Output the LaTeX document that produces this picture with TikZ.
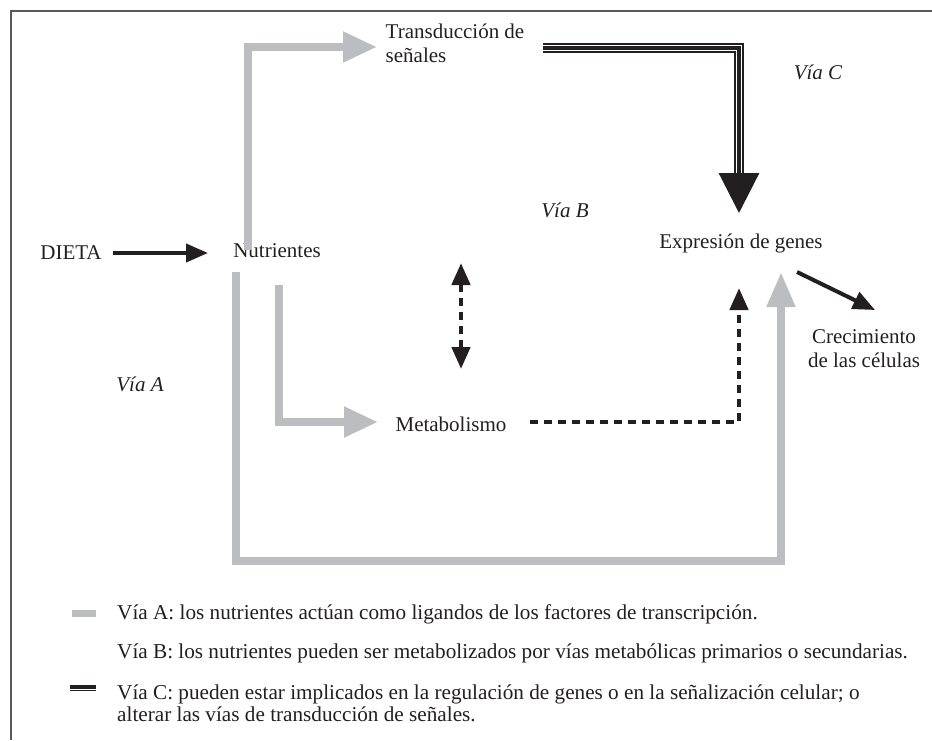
\documentclass[tikz,border=0pt]{standalone}
\usepackage{fontspec}
\setmainfont{Liberation Serif}
\usetikzlibrary{arrows.meta}
\definecolor{ga}{HTML}{BCBDC0}
\definecolor{ink}{HTML}{231F20}
\definecolor{frame}{HTML}{5A5A5A}
\begin{document}
\begin{tikzpicture}[x=1pt,y=-1pt,
  lbl/.style={font=\fontsize{21}{24}\selectfont, text=ink, inner sep=0pt, align=center},
  via/.style={font=\fontsize{21}{24}\selectfont\itshape, text=ink, inner sep=0pt},
  leg/.style={font=\fontsize{21.2}{22}\selectfont, text=ink, inner sep=0pt, align=left, anchor=west},
  grayline/.style={draw=ga, line width=8pt, line join=miter},
  grayarrow/.style={grayline, -{Triangle[length=34pt,width=29pt]}},
  blackarrow/.style={draw=ink, line width=4pt, -{Triangle[length=22pt,width=18pt]}},
  dotline/.style={draw=ink, line width=4.5pt, dash pattern=on 8pt off 6pt},
]
\useasboundingbox (0,0) rectangle (932,740);
\draw[frame, line width=1.5pt] (11,740) -- (11,11) -- (932,11);

% texts
\node[lbl] (dieta) at (71,253) {DIETA};
\node[lbl] (nutr) at (277,251) {Nutrientes};
\node[lbl, align=left] (trans) at (455,43) {Transducción de\\señales};
\node[lbl] (expr) at (741,243) {Expresión de genes};
\node[lbl] (metab) at (451,424) {Metabolismo};
\node[lbl] (crec) at (864,349) {Crecimiento\\de las células};
\node[via] (viaA) at (140,384) {Vía A};
\node[via] (viaB) at (565,210) {Vía B};
\node[via] (viaC) at (818,72) {Vía C};

% coordinates
\coordinate (a1s) at (248,250);
\coordinate (a1c) at (248,47);
\coordinate (a1e) at (377,47);
\coordinate (a2s) at (279,285);
\coordinate (a2c) at (279,422);
\coordinate (a2e) at (378,422);
\coordinate (a3s) at (236,272);
\coordinate (a3c1) at (236,561);
\coordinate (a3c2) at (781,561);
\coordinate (a3e) at (781,272);
\coordinate (cs) at (543,48);
\coordinate (cc) at (739,48);
\coordinate (cb) at (739,173);
\coordinate (ce) at (739,213);
\coordinate (bt) at (461,263);
\coordinate (bb) at (461,369);
\coordinate (ms) at (530,422);
\coordinate (mc) at (739,422);
\coordinate (me) at (739,288);
\coordinate (ds) at (113,253);
\coordinate (de) at (208,253);
\coordinate (gs) at (797,272);
\coordinate (ge) at (875,310);

% Via A (gray)
\draw[grayarrow] (a1s) -- (a1c) -- (a1e);
\draw[grayarrow] (a2s) -- (a2c) -- (a2e);
\draw[grayarrow, -{Triangle[length=35pt,width=27pt]}] (a3s) -- (a3c1) -- (a3c2) -- (a3e);

% Via C (triple line)
\draw[ink, line width=10pt, line join=miter] (cs) -- (cc) -- (cb);
\draw[white, line width=6.5pt, line join=miter] (cs) -- (cc) -- (cb);
\draw[ink, line width=3.2pt, line join=miter, -{Triangle[length=40pt,width=40pt]}] (cs) -- (cc) -- (ce);

% Via B (dotted)
\draw[dotline, {Triangle[length=22pt,width=18pt]}-{Triangle[length=22pt,width=18pt]}] (bt) -- (bb);
\draw[dotline, line join=miter, -{Triangle[length=22pt,width=18pt]}] (ms) -- (mc) -- (me);

% black arrows
\draw[blackarrow] (ds) -- (de);
\draw[blackarrow] (gs) -- (ge);

% legend
\coordinate (m1a) at (72,613);
\coordinate (m1b) at (96,613);
\draw[ga, line width=7pt] (m1a) -- (m1b);
\node[leg] (la) at (117,614) {Vía A: los nutrientes actúan como ligandos de los factores de transcripción.};
\node[leg] (lb) at (117,653) {Vía B: los nutrientes pueden ser metabolizados por vías metabólicas primarios o secundarias.};
\coordinate (m3a) at (70,688);
\coordinate (m3b) at (96,688);
\draw[ink, line width=5.5pt] (m3a) -- (m3b);
\draw[white, line width=3pt] (m3a) -- (m3b);
\draw[ink, line width=1.5pt] (m3a) -- (m3b);
\node[leg] (lc) at (117,703) {Vía C: pueden estar implicados en la regulación de genes o en la señalización celular; o\\alterar las vías de transducción de señales.};
\end{tikzpicture}
\end{document}
